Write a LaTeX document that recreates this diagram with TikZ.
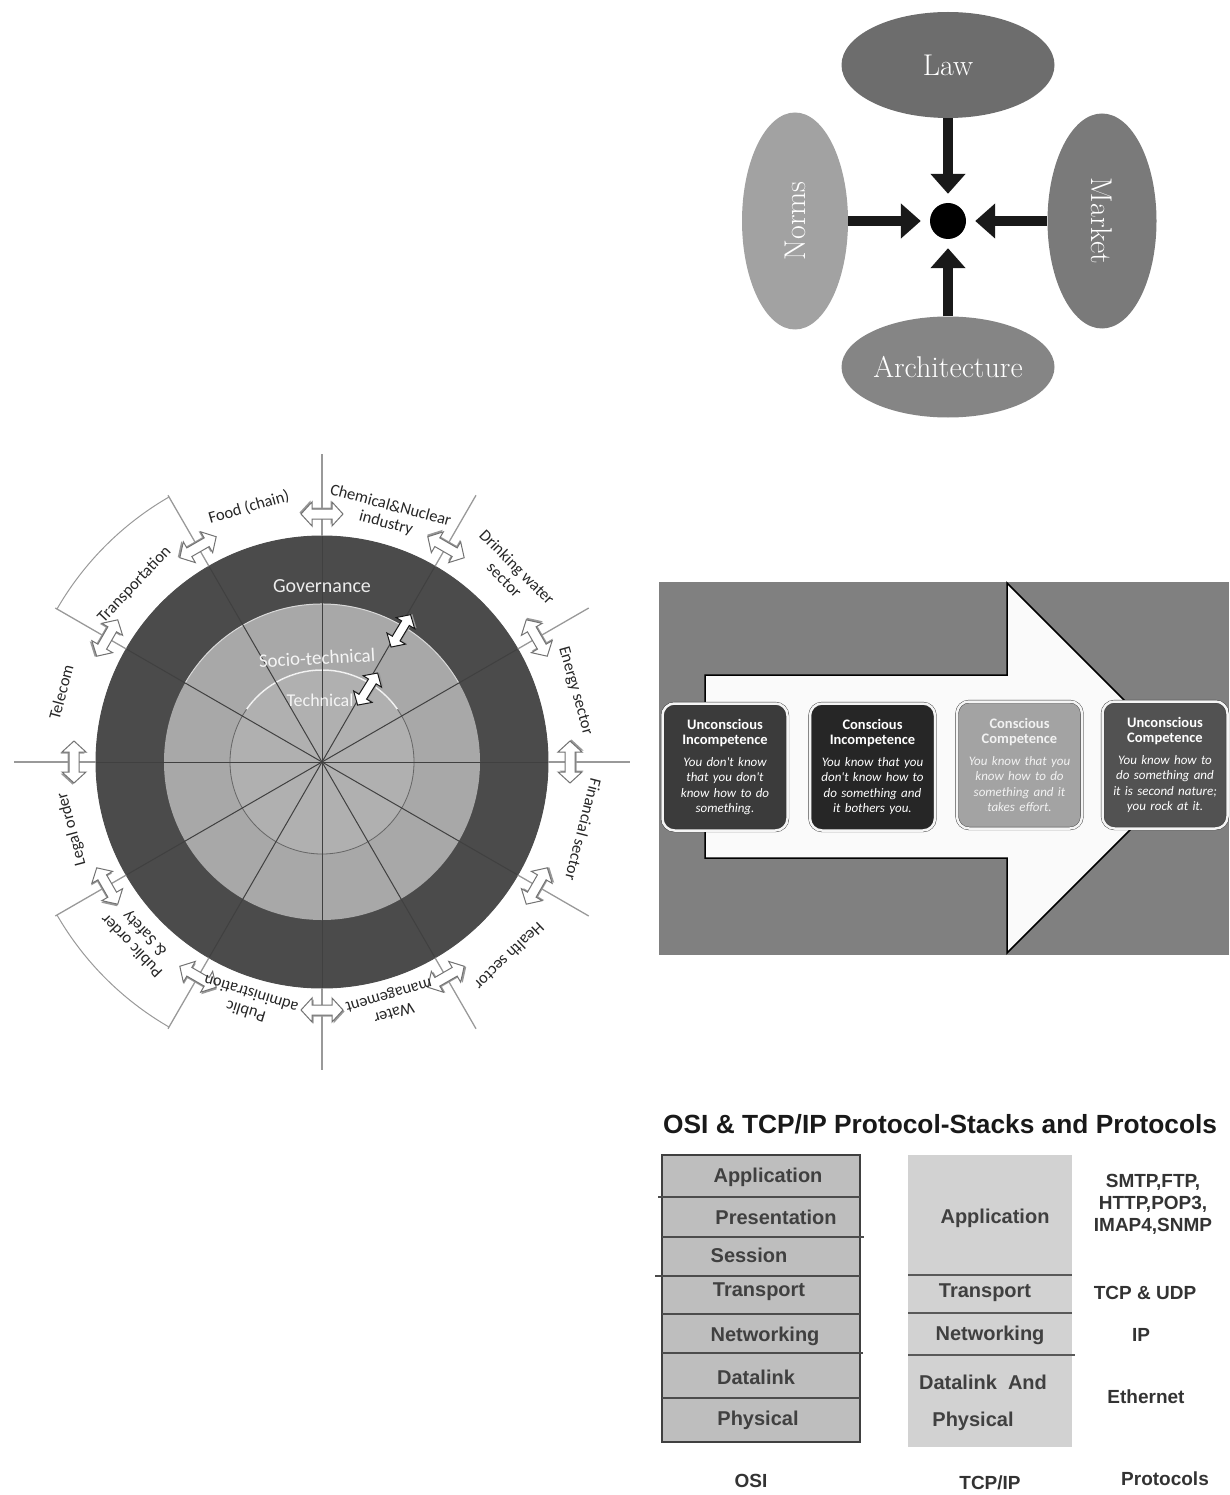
\documentclass[tikz,border=0pt]{standalone}
\usepackage{fontspec}
\newfontfamily\carlito{Carlito}
\newfontfamily\arialfam{Liberation Sans}
\usepackage{tikz}
\usetikzlibrary{shapes,shapes.geometric,arrows.meta,calc}

\definecolor{lawgray}{HTML}{6D6D6D}
\definecolor{normgray}{HTML}{A2A2A2}
\definecolor{mktgray}{HTML}{7A7A7A}
\definecolor{archgray}{HTML}{858585}
\definecolor{compbg}{HTML}{808080}
\definecolor{stageA}{HTML}{3B3B3B}
\definecolor{stageB}{HTML}{262626}
\definecolor{stageC}{HTML}{A3A3A3}
\definecolor{stageD}{HTML}{525252}
\definecolor{ringdark}{HTML}{4B4B4B}
\definecolor{sociogray}{HTML}{A8A8A8}
\definecolor{techgray}{HTML}{B0B0B0}
\definecolor{osifill}{HTML}{BEBEBE}
\definecolor{tcpfill}{HTML}{D2D2D2}

\tikzset{
  pics/twoway/.style={code={
    \fill[black!40] (-19.5,-1.5) -- (-8.5,10.5) -- (-8.5,3.5) -- (11.5,3.5) -- (11.5,10.5) -- (22.5,-1.5)
      -- (11.5,-13.5) -- (11.5,-6.5) -- (-8.5,-6.5) -- (-8.5,-13.5) -- cycle;
    \draw[draw=#1, fill=white, line width=1pt] (-21,0) -- (-10,12) -- (-10,5) -- (10,5) -- (10,12) -- (21,0)
      -- (10,-12) -- (10,-5) -- (-10,-5) -- (-10,-12) -- cycle;
  }}
}

\begin{document}
\begin{tikzpicture}[x=1pt,y=1pt]
    \tikzstyle{lawell} = [ellipse, inner sep=0pt, text=white, font=\fontsize{30}{32}\selectfont]
    \tikzstyle{pull}   = [line width=10pt, draw=black!90, -{Triangle[width=34pt,length=20pt]}, shorten >=9pt]
    \tikzstyle{stage}  = [rounded corners=12pt, minimum width=125pt, minimum height=127pt,
      draw=black!80, double=white!92!gray, double distance=2.5pt, inner sep=0pt,
      text width=120pt, align=center, text=white, font=\carlito\fontsize{13}{15.5}\selectfont]
    \tikzstyle{spoke}  = [draw=black!75, line width=1pt]
    \tikzstyle{axis}   = [draw=black!40, line width=1.3pt]
    \tikzstyle{sector} = [inner sep=0pt, align=center, text=black!85, font=\carlito\fontsize{16.5}{18}\selectfont]
    \tikzstyle{layer}  = [inner sep=0pt, text=black!75, font=\arialfam\bfseries\fontsize{20}{22}\selectfont]
    \tikzstyle{proto}  = [inner sep=0pt, align=center, text=black!80, font=\arialfam\bfseries\fontsize{19}{22}\selectfont]

    \useasboundingbox (0,0) rectangle (1229,-1495);

    % law, norms, market, architecture
    \node[lawell, fill=lawgray, minimum width=213pt, minimum height=106pt] (law) at (948,-65) {Law};
    \node[lawell, fill=normgray, minimum width=217pt, minimum height=106pt, rotate=90] (norms) at (795,-221) {Norms};
    \node[lawell, fill=mktgray, minimum width=215pt, minimum height=109pt, rotate=-90] (market) at (1102,-221) {Market};
    \node[lawell, fill=archgray, minimum width=213pt, minimum height=101pt] (arch) at (948,-367) {Architecture};
    \node[circle, fill=black, minimum size=36pt, inner sep=0pt] (core) at (948,-221) {};

    \draw[pull] (law)--(core);
    \draw[pull] (norms)--(core);
    \draw[pull] (market)--(core);
    \draw[pull] (arch)--(core);

    % competence stages
    \fill[compbg] (659,-582) rectangle (1229,-955);
    \draw[fill=white!96!gray, line width=1.5pt] (705,-675) -- (1007,-675) -- (1007,-583)
      -- (1192,-768) -- (1007,-953) -- (1007,-858) -- (705,-858) -- cycle;

    \node[stage, fill=stageA] (s1) at (725,-767)
      {{\fontsize{14.5}{15.5}\selectfont\bfseries Unconscious\\Incompetence}\\[6pt]
       {\itshape You don't know\\that you don't\\know how to do\\something.}};
    \node[stage, fill=stageB] (s2) at (872.5,-767)
      {{\fontsize{14.5}{15.5}\selectfont\bfseries Conscious\\Incompetence}\\[6pt]
       {\itshape You know that you\\don't know how to\\do something and\\it bothers you.}};
    \node[stage, fill=stageC, text=white!90!gray] (s3) at (1019.5,-765)
      {{\fontsize{14.5}{15.5}\selectfont\bfseries Conscious\\Competence}\\[6pt]
       {\itshape You know that you\\know how to do\\something and it\\takes effort.}};
    \node[stage, fill=stageD] (s4) at (1165,-765)
      {{\fontsize{14.5}{15.5}\selectfont\bfseries Unconscious\\Competence}\\[6pt]
       {\itshape You know how to\\do something and\\it is second nature;\\you rock at it.}};

    % sector wheel
    \begin{scope}[shift={(322,-762)}]
      \fill[ringdark] (0,0) circle (226);
      \draw[black!70, line width=1pt] (0,0) circle (226);
      \fill[sociogray] (0,0) circle (158);
      \draw[white!70!gray, line width=1pt] (30:158) arc (30:150:158);
      \fill[techgray] (0,0) circle (92);
      \draw[black!60, line width=0.8pt] (0,0) circle (92);
      \draw[white!90!gray, line width=1.5pt] (35:92) arc (35:145:92);
      \foreach \a in {0,30,...,330} {
        \draw[spoke] (0,0) -- (\a:226);
        \draw[axis] (\a:226) -- (\a:308);
      }
      \draw[axis, line width=1pt] (120:306) arc (120:150:306);
      \draw[axis, line width=1pt] (210:306) arc (210:240:306);

      \node[inner sep=0pt, text=white!85!gray, font=\carlito\fontsize{20}{22}\selectfont] (gov) at (0,176) {Governance};
      \node[inner sep=0pt, text=white!92!gray, rotate=3, font=\carlito\fontsize{19}{21}\selectfont] (socio) at (-5,104) {Socio-technical};
      \node[inner sep=0pt, text=white!92!gray, font=\carlito\fontsize{18}{20}\selectfont] (tech) at (-2,62) {Technical};

      \foreach \a in {0,30,...,330}
        \pic[rotate=\a+90] (lk\a) at (\a:248) {twoway=black!55};

      \pic[rotate=59, scale=0.9] (up1) at (59:153) {twoway=black!90};
      \pic[rotate=58, scale=0.9] (up2) at (58:86) {twoway=black!90};

      \foreach \a/\r/\t [count=\i] in {106/265/Food (chain), 75/256/{Chemical\&Nuclear\\industry},
          45/267/{Drinking water\\sector}, 15.7/263/Energy sector, -14.5/270/Financial sector,
          -46/270/Health sector, -74/251/{Water\\management}, -107/252/{Public\\administration},
          -136/255/{Public order\\\& Safety}, -165/259/Legal order, 165/270/Telecom,
          136.6/258/Transportation}
        \node[sector, rotate=\a-90] (sec\i) at (\a:\r) {\t};
    \end{scope}

    % protocol stacks
    \node[anchor=base west, inner sep=0pt, text=black!90, font=\arialfam\bfseries\fontsize{26.3}{28}\selectfont] (title) at (663,-1133)
      {OSI \& TCP/IP Protocol-Stacks and Protocols};

    \draw[fill=osifill, draw=black!75, line width=1.3pt] (662,-1155) rectangle (860,-1442);
    \draw[black!70, line width=1.3pt] (658,-1197) -- (860,-1197);
    \draw[black!70, line width=1.3pt] (662,-1237) -- (864,-1237);
    \draw[black!70, line width=1.3pt] (655,-1276) -- (860,-1276);
    \draw[black!70, line width=1.3pt] (662,-1314) -- (860,-1314);
    \draw[black!70, line width=1.3pt] (662,-1353) -- (863,-1353);
    \draw[black!70, line width=1.3pt] (662,-1398) -- (860,-1398);

    \node[layer] (o7) at (768,-1177) {Application};
    \node[layer] (o6) at (776,-1217) {Presentation};
    \node[layer] (o5) at (749,-1255) {Session};
    \node[layer] (o4) at (759,-1292) {Transport};
    \node[layer] (o3) at (765,-1336) {Networking};
    \node[layer] (o2) at (756,-1377) {Datalink};
    \node[layer] (o1) at (758,-1420) {Physical};

    \fill[tcpfill] (908,-1155) rectangle (1072,-1447);
    \draw[black!65, line width=1.5pt] (908,-1275) -- (1072,-1275);
    \draw[black!65, line width=1.5pt] (908,-1313) -- (1072,-1313);
    \draw[black!65, line width=1.5pt] (908,-1355) -- (1075,-1355);

    \node[layer] (t4) at (995,-1218) {Application};
    \node[layer] (t3) at (985,-1293) {Transport};
    \node[layer] (t2) at (990,-1335) {Networking};
    \node[layer] (t1a) at (983,-1382) {Datalink\ \ And};
    \node[layer] (t1b) at (973,-1421) {Physical};

    \node[proto] (p4) at (1153,-1204) {SMTP,FTP,\\HTTP,POP3,\\IMAP4,SNMP};
    \node[proto] (p3) at (1145,-1293) {TCP \& UDP};
    \node[proto] (p2) at (1141,-1335) {IP};
    \node[proto] (p1) at (1146,-1397) {Ethernet};

    \node[proto] (osiname) at (751,-1481) {OSI};
    \node[proto] (tcpname) at (990,-1483) {TCP/IP};
    \node[proto] (protoname) at (1165,-1479) {Protocols};
\end{tikzpicture}
\end{document}
